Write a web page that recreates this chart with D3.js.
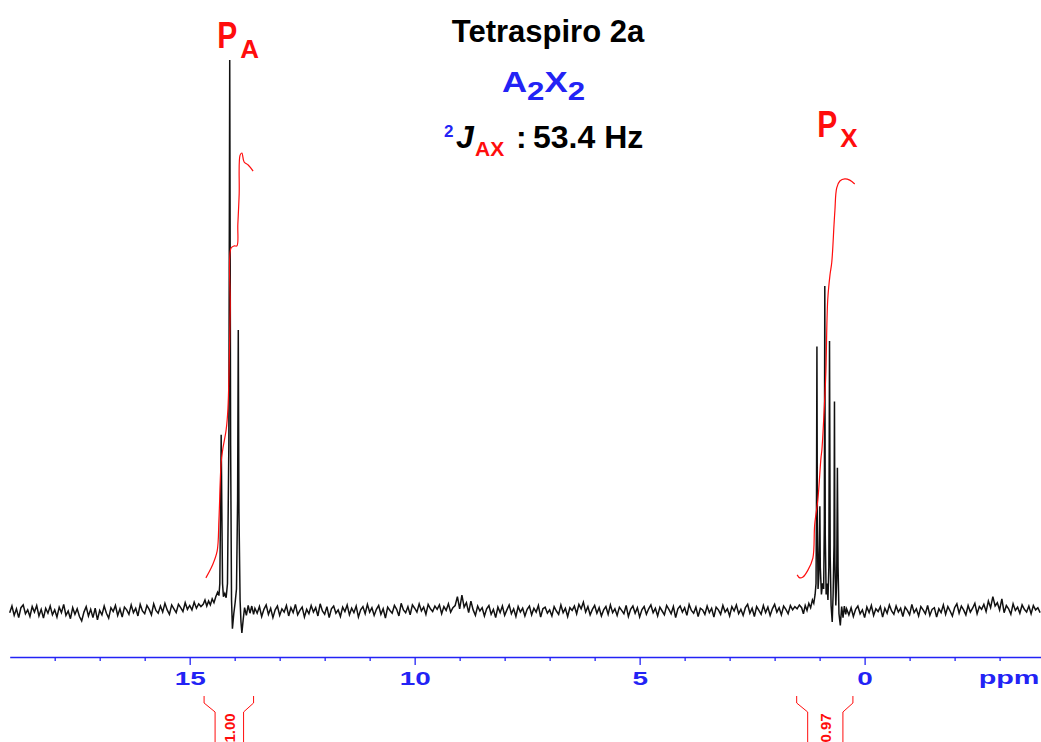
<!DOCTYPE html>
<html>
<head>
<meta charset="utf-8">
<script src="https://cdn.jsdelivr.net/npm/d3@7"></script>
<style>
  body { margin: 0; background: #fff; }
  svg { display: block; font-family: "Liberation Sans", Arial, sans-serif; }
</style>
</head>
<body>
<script>
// ---- data (ppm, intensity; tallest line = 100) ----
var noiseStep = 0.05;
var noiseLeftStart = 19.00;
var noiseLeft = [
  -0.3, 0.9, -0.8, 0.4, -1.2, 0.6, 1.1, -0.5, 0.2, -1.0, 0.8, -0.2, 1.0, -0.9, 0.3, -1.3, 0.5, -0.4, 0.9, -0.7,
  0.2, -1.1, 0.7, -0.3, 1.2, -0.8, 0.0, -1.4, 0.6, -0.6, 0.4, -1.0, -1.8, -0.2, 0.8, -0.9, 0.3, -1.2, 0.5, -1.6,
  0.1, -0.7, 0.9, -0.4, -1.3, 0.6, -0.1, 1.0, -0.8, 0.4, -1.1, 0.7, 0.2, -0.6, 1.1, -0.3, 0.5, -0.9, 1.2, 0.0,
  -0.5, 1.0, 0.3, -0.7, 1.3, 0.1, -0.4, 0.9, -0.2, 1.4, 0.2, -0.6, 1.1, 0.4, -0.3, 1.2, 0.6, -0.1, 1.5, 0.3,
  1.0, 0.2, 1.6, 0.5, 1.3, 0.8
];
var peakA = [
  [14.70, 1.2], [14.66, 2.0], [14.62, 0.9], [14.58, 1.8], [14.54, 1.1], [14.50, 2.2], [14.46, 1.5], [14.42, 2.6],
  [14.38, 3.4], [14.35, 2.8], [14.33, 5], [14.315, 18], [14.30, 32], [14.285, 18], [14.27, 5], [14.25, 2.6],
  [14.22, 3.2], [14.19, 2.4], [14.16, 5], [14.13, 30], [14.11, 100], [14.09, 30], [14.07, 2], [14.05, -3.2],
  [14.02, -0.5], [13.99, 1.5], [13.96, 4], [13.935, 20], [13.92, 51], [13.905, 18], [13.88, 2], [13.86, -2],
  [13.84, -4.0], [13.81, -1.5], [13.78, 0.6], [13.74, -0.8], [13.70, 1.0], [13.66, -0.4], [13.62, 0.9],
  [13.58, -0.6], [13.55, 0.5]
];
var noiseMidStart = 13.50;
var noiseMid = [
  -0.4, 0.8, -1.0, 0.3, 1.1, -0.6, 0.5, -1.2, 0.2, 0.9, -0.8, 0.4, -0.2, 1.0, -0.9, 0.6, -0.3, 1.2, -0.7, 0.1,
  0.7, -1.1, 0.3, -0.5, 1.0, -0.2, 0.6, -0.9, 1.3, 0.0, -0.6, 0.8, -1.2, 0.4, 0.9, -0.4, 0.2, -1.0, 0.7, -0.1,
  1.1, -0.7, 0.5, -0.3, 0.9, -1.1, 0.2, 0.8, -0.5, 1.2, -0.2, 0.6, -0.8, 0.3, 1.0, -0.6, 0.4, -1.3, 0.7, 0.1,
  -0.4, 1.0, 0.3, -0.9, 1.4, 0.2, -0.3, 0.8, -0.7, 1.1, 0.5, -0.2, 1.3, 0.0, 0.7, -0.6, 1.2, 0.4, -0.1, 0.9,
  0.3, 1.1, -0.5, 0.8, 0.1, 1.3, -0.2, 0.6, 1.0, 2.6, 0.4, 2.9, 0.7, 1.5, -0.3, 1.8, 0.2, -0.8, 0.9, 0.0,
  0.6, -0.9, 0.4, 1.0, -0.6, 0.3, -1.2, 0.7, -0.3, 0.9, -0.8, 0.2, 1.1, -0.5, 0.4, -1.0, 0.8, -0.2, 0.5, -0.9,
  0.3, 0.9, -0.7, 0.5, -0.2, 1.0, -1.1, 0.4, 0.7, -0.4, 0.2, -0.9, 0.8, 0.0, -0.6, 1.1, -0.3, 0.5, -1.0, 0.6,
  0.1, 0.9, -0.5, 1.2, 0.4, 1.6, -0.2, 0.8, -0.7, 0.3, 1.0, -0.4, 0.6, -0.9, 0.2, 0.8, -0.6, 1.1, -0.3, 0.4,
  -0.8, 0.7, 0.1, -0.5, 1.0, -1.0, 0.3, 0.9, -0.4, 0.6, -1.1, 0.2, 0.8, -0.6, 0.4, 1.1, -0.3, 0.5, -0.9, 0.7,
  0.0, -0.7, 1.0, 0.3, -0.5, 0.8, -1.2, 0.4, 0.9, -0.2, 0.6, -0.8, 1.2, 0.1, -0.4, 0.7, -1.0, 0.5, 0.2, -0.6,
  0.9, -0.3, 0.5, -1.1, 0.7, 0.2, -0.6, 1.0, -0.2, 0.4, -0.9, 0.8, 0.0, 1.1, -0.5, 0.3, -0.8, 0.6, 1.2, -0.4,
  0.5, -1.0, 0.8, 0.1, -0.6, 1.0, -0.3, 0.7, -0.8, 0.4, 1.2, -0.2, 0.6, -0.7, 0.9, 0.3, -0.5, 1.0, 0.2, 0.8,
  0.4, 1.1
];
var peakX = [
  [1.40, 0.6], [1.36, -0.5], [1.32, 1.0], [1.28, 0.1], [1.24, 1.4], [1.20, 0.6], [1.16, 2.0], [1.13, 1.4],
  [1.10, 3.0], [1.08, 5], [1.07, 18], [1.06, 48], [1.05, 16], [1.035, 4], [1.02, 6], [1.005, 12], [0.995, 19],
  [0.985, 8], [0.96, 3], [0.935, 5], [0.91, 4], [0.895, 16], [0.885, 59], [0.875, 14], [0.855, 3], [0.835, 5],
  [0.815, 2], [0.795, 8], [0.78, 49], [0.765, 10], [0.745, 1], [0.72, -2], [0.70, 3], [0.68, 12], [0.67, 38],
  [0.66, 9], [0.64, 1], [0.62, 6], [0.605, 26], [0.59, 8], [0.57, -0.5], [0.54, -2.6], [0.51, 0.8],
  [0.48, -1.2], [0.45, 0.9], [0.42, -0.6], [0.40, 0.4]
];
var noiseRightStart = 0.35;
var noiseRight = [
  -0.7, 0.6, -1.0, 0.3, 0.9, -0.5, 0.2, -1.2, 0.7, -0.3, 1.0, -0.8, 0.4, -0.1, 0.8, -1.1, 0.5, -0.4, 1.1, 0.0,
  -0.6, 0.9, -0.2, 0.5, -1.0, 0.7, 0.1, -0.7, 1.2, -0.3, 0.4, -0.9, 0.8, 0.2, -0.5, 1.0, -0.8, 0.3, 0.6, -1.1,
  0.4, -0.3, 1.1, -0.6, 0.8, 0.0, -0.9, 0.6, 1.3, -0.4, 0.9, 0.2, -0.7, 1.0, -0.2, 0.5, 1.4, -0.5, 0.8, 0.3,
  1.2, -0.1, 1.8, 0.6, 2.6, 0.9, 1.5, 0.2, 2.2, -0.3, 1.0, 0.4, -0.6, 1.3, 0.1, 0.7, -0.4, 1.1, 0.3, -0.2,
  0.9, -0.5, 1.0, 0.2, 0.6, -0.3
];

// integral traces (ppm, % of integral scale)
var integralA = [
  [14.64, 0.5], [14.50, 3.3], [14.39, 6.7], [14.35, 14], [14.30, 27.4], [14.26, 30.7], [14.19, 34.9],
  [14.15, 39.8], [14.10, 63], [14.08, 77.2], [14.01, 77.7], [13.95, 77.7], [13.93, 82.6], [13.90, 89.8],
  [13.88, 98.8], [13.84, 99.3], [13.79, 97.2], [13.70, 96.5], [13.59, 95.1]
];
var integralX = [
  [1.50, 1.2], [1.44, 0.5], [1.37, 0.7], [1.26, 2.3], [1.15, 5.1], [1.11, 12.8], [1.04, 18.6], [0.97, 28.4],
  [0.95, 30.2], [0.91, 37.2], [0.88, 43.5], [0.86, 48.8], [0.82, 65.1], [0.77, 70.9], [0.73, 73.9],
  [0.68, 82.6], [0.66, 86], [0.62, 91.2], [0.55, 92.8], [0.44, 93.3], [0.33, 93], [0.22, 92.1]
];
var integralRanges = [[14.68, 13.58], [1.51, 0.26]];
var integralValues = ["1.00", "0.97"];

var majorTicks = [15, 10, 5, 0];
var minorTicks = [18, 17, 16, 14, 13, 12, 11, 9, 8, 7, 6, 4, 3, 2, 1, -1, -2, -3];
var axisUnit = "ppm";

var peakLabels = [{p: "P", sub: "A", ppm: 14.39}, {p: "P", sub: "X", ppm: 1.05}];

// ---- layout ----
var W = 1041, H = 742;
var svg = d3.select("body").append("svg").attr("width", W).attr("height", H);
svg.append("rect").attr("width", W).attr("height", H).attr("fill", "#fff");

var axisY = 657;
var x = d3.scaleLinear().domain([19.0, -3.92]).range([9.7, 1041]);
var y = d3.scaleLinear().domain([0, 100]).range([611, 60]);
var yI = d3.scaleLinear().domain([0, 100]).range([580, 150]);

var blue = "#2323f5", red = "#ff0d0d";

// build the trace
function noisePts(start, vals) {
  return vals.map(function(v, i) { return [start - i * noiseStep, v]; });
}
var spectrum = [].concat(noisePts(noiseLeftStart, noiseLeft), peakA,
  noisePts(noiseMidStart, noiseMid), peakX, noisePts(noiseRightStart, noiseRight));

var line = d3.line()
  .x(function(d) { return x(d[0]); })
  .y(function(d) { return y(d[1]); });

svg.append("path")
  .attr("d", line(spectrum))
  .attr("fill", "none")
  .attr("stroke", "#111")
  .attr("stroke-width", 1.5);

// integrals
var iline = d3.line()
  .curve(d3.curveCatmullRom)
  .x(function(d) { return x(d[0]); })
  .y(function(d) { return yI(d[1]); });

svg.selectAll(".integral")
  .data([integralA, integralX])
  .enter().append("path")
  .attr("class", "integral")
  .attr("d", iline)
  .attr("fill", "none")
  .attr("stroke", red)
  .attr("stroke-width", 1.2);

// axis
var gMinor = svg.append("g")
  .attr("transform", "translate(0," + axisY + ")")
  .call(d3.axisBottom(x).tickValues(minorTicks).tickSize(4).tickSizeOuter(0).tickFormat(""));
var gMajor = svg.append("g")
  .attr("transform", "translate(0," + axisY + ")")
  .call(d3.axisBottom(x).tickValues(majorTicks).tickSize(8).tickSizeOuter(0).tickPadding(7));
gMinor.select(".domain").attr("stroke", blue).attr("stroke-width", 1.3);
gMajor.select(".domain").remove();
svg.selectAll(".tick line").attr("stroke", blue).attr("stroke-width", 1.3);
gMajor.selectAll(".tick text")
  .attr("fill", blue)
  .style("font-size", "18px")
  .style("font-weight", "bold")
  .style("font-family", "'Liberation Sans', Arial, sans-serif")
  .attr("transform", "scale(1.55,1)");

svg.append("text")
  .attr("transform", "translate(1009," + (axisY + 27) + ") scale(1.6,1)")
  .attr("text-anchor", "middle")
  .attr("fill", blue)
  .style("font-size", "18px")
  .style("font-weight", "bold")
  .text(axisUnit);

// integral brackets under the axis
var brk = svg.selectAll(".brk")
  .data(integralRanges)
  .enter().append("g").attr("class", "brk");
brk.append("path")
  .attr("d", function(r) {
    var xl = x(r[0]), xr = x(r[1]);
    return "M" + xl + ",696L" + xl + ",703L" + (xl + 11) + ",712L" + (xl + 11) + ",745" +
           "M" + xr + ",696L" + xr + ",703L" + (xr - 10) + ",712L" + (xr - 10) + ",745";
  })
  .attr("fill", "none")
  .attr("stroke", red)
  .attr("stroke-width", 1);
brk.append("text")
  .attr("transform", function(r) {
    return "translate(" + ((x(r[0]) + x(r[1])) / 2 + 0.5) + ",728) rotate(-90)";
  })
  .attr("text-anchor", "middle")
  .attr("dy", "0.35em")
  .attr("fill", red)
  .style("font-size", "15px")
  .style("font-weight", "bold")
  .text(function(r, i) { return integralValues[i]; });

// peak labels
var pl = svg.selectAll(".plab")
  .data(peakLabels)
  .enter().append("g").attr("class", "plab");
pl.append("text")
  .attr("x", function(d) { return x(d.ppm); })
  .attr("y", function(d, i) { return i === 0 ? 48 : 137; })
  .attr("textLength", 20)
  .attr("lengthAdjust", "spacingAndGlyphs")
  .attr("fill", red)
  .style("font-size", "36px")
  .style("font-weight", "bold")
  .text(function(d) { return d.p; });
pl.append("text")
  .attr("x", function(d) { return x(d.ppm) + 23; })
  .attr("y", function(d, i) { return i === 0 ? 58 : 147; })
  .attr("fill", red)
  .style("font-size", "26px")
  .style("font-weight", "bold")
  .text(function(d) { return d.sub; });

// title block
svg.append("text")
  .attr("x", 548).attr("y", 42)
  .attr("text-anchor", "middle")
  .attr("fill", "#000")
  .style("font-size", "31px")
  .style("font-weight", "bold")
  .text("Tetraspiro 2a");

var sys = svg.append("text")
  .attr("x", 502).attr("y", 92)
  .attr("textLength", 83)
  .attr("lengthAdjust", "spacingAndGlyphs")
  .attr("fill", blue)
  .style("font-weight", "bold");
sys.append("tspan").style("font-size", "29px").text("A");
sys.append("tspan").style("font-size", "26px").attr("dy", 8).text("2");
sys.append("tspan").style("font-size", "29px").attr("dy", -8).text("X");
sys.append("tspan").style("font-size", "26px").attr("dy", 8).text("2");

var jl = svg.append("g").style("font-weight", "bold");
jl.append("text").attr("x", 444).attr("y", 137).attr("fill", blue).style("font-size", "17px").text("2");
jl.append("text").attr("x", 456).attr("y", 148).attr("fill", "#000").style("font-size", "32px")
  .style("font-style", "italic").text("J");
jl.append("text").attr("x", 475).attr("y", 156).attr("fill", red).style("font-size", "21px").text("AX");
jl.append("text").attr("x", 516).attr("y", 148).attr("fill", "#000").style("font-size", "32px").text(":");
jl.append("text").attr("x", 533).attr("y", 148).attr("fill", "#000").style("font-size", "32px").text("53.4 Hz");
</script>
</body>
</html>
